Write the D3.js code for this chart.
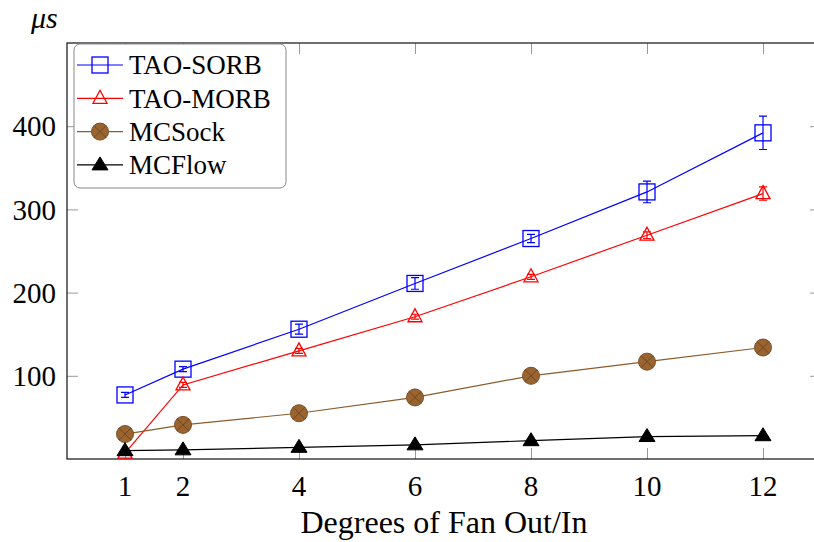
<!DOCTYPE html>
<html lang="en">
<head>
<meta charset="UTF-8">
<title>Fan Out/In latency</title>
<style>
    body { margin: 0; background: #fff; }
    svg { display: block; }
    text { font-family: "Liberation Serif", "Times New Roman", "DejaVu Serif", serif; }
    .tick line { stroke: #999; }
</style>
</head>
<body>
<svg width="814" height="542"></svg>
<script src="https://d3js.org/d3.v7.min.js"></script>
<script>
    // values (microseconds)
    const fanDegrees = [1, 2, 4, 6, 8, 10, 12];
    const taoSorb    = [77, 108, 156, 211, 265, 321, 392];
    const taoSorbErr = [3, 3, 6, 7, 5, 13, 20];
    const taoMorb    = [7, 89, 130, 171, 219, 269, 319];
    const taoMorbErr = [2, 3, 3, 3, 3, 4, 8];
    const mcSock     = [30, 41, 55, 74, 100, 117, 134];
    const mcFlow     = [10, 11, 14, 17, 22, 27, 28];
    const xTicks = [1, 2, 4, 6, 8, 10, 12];
    const yTicks = [100, 200, 300, 400];

    const series = [
        {name: "TAO-SORB", values: taoSorb, err: taoSorbErr, color: "#0000ff", mark: "square"},
        {name: "TAO-MORB", values: taoMorb, err: taoMorbErr, color: "#ff0000", mark: "triangle"},
        {name: "MCSock", values: mcSock, err: null, color: "#8c5b2c", mark: "otimes"},
        {name: "MCFlow", values: mcFlow, err: null, color: "#000000", mark: "filltri"}
    ];

    const mLeft = 67, mRight = 821, mTop = 43, mBottom = 459;
    const serif = "'Liberation Serif', 'Times New Roman', 'DejaVu Serif', serif";
    const svg = d3.select("svg").attr("font-family", serif);
    const x = d3.scaleLinear().domain([0, 13]).range([mLeft, mRight]);
    const y = d3.scaleLinear().domain([0, 500]).range([mBottom, mTop]);

    // ticks, both sides, pointing inward
    svg.append("g").attr("transform", `translate(0,${mBottom})`)
        .call(d3.axisBottom(x).tickValues(xTicks).tickSize(-11).tickFormat(""))
        .call(g => g.select(".domain").remove());
    svg.append("g").attr("transform", `translate(0,${mTop})`)
        .call(d3.axisTop(x).tickValues(xTicks).tickSize(-11).tickFormat(""))
        .call(g => g.select(".domain").remove());
    svg.append("g").attr("transform", `translate(${mLeft},0)`)
        .call(d3.axisLeft(y).tickValues(yTicks).tickSize(-11).tickFormat(""))
        .call(g => g.select(".domain").remove());
    svg.append("g").attr("transform", `translate(${mRight},0)`)
        .call(d3.axisRight(y).tickValues(yTicks).tickSize(-11).tickFormat(""))
        .call(g => g.select(".domain").remove());

    svg.append("rect")
        .attr("x", mLeft).attr("y", mTop)
        .attr("width", mRight - mLeft).attr("height", mBottom - mTop)
        .attr("fill", "none").attr("stroke", "#222").attr("stroke-width", 1.3);

    svg.selectAll(".xlab").data(xTicks).enter().append("text")
        .attr("x", d => x(d)).attr("y", 496)
        .attr("text-anchor", "middle").attr("font-size", 29)
        .attr("font-family", serif)
        .text(d => d);
    svg.selectAll(".ylab").data(yTicks).enter().append("text")
        .attr("x", 56).attr("y", d => y(d)).attr("dy", "0.35em")
        .attr("text-anchor", "end").attr("font-size", 29)
        .attr("font-family", serif)
        .text(d => d);

    svg.append("text").attr("x", 444).attr("y", 533)
        .attr("text-anchor", "middle").attr("font-size", 32)
        .attr("font-family", serif)
        .text("Degrees of Fan Out/In");
    svg.append("text").attr("x", 31).attr("y", 28)
        .attr("font-size", 30).attr("font-style", "italic")
        .attr("font-family", serif)
        .text("μs");

    function drawMark(g, s, cx, cy) {
        if (s.mark === "square") {
            g.append("rect").attr("x", cx - 8).attr("y", cy - 8).attr("width", 16).attr("height", 16)
                .attr("fill", "none").attr("stroke", s.color).attr("stroke-width", 1.3);
        } else if (s.mark === "triangle") {
            g.append("path").attr("d", `M${cx},${cy - 8}L${cx + 7},${cy + 5}L${cx - 7},${cy + 5}Z`)
                .attr("fill", "none").attr("stroke", s.color).attr("stroke-width", 1.3);
        } else if (s.mark === "otimes") {
            const r = 8.5, k = r * Math.SQRT1_2;
            g.append("circle").attr("cx", cx).attr("cy", cy).attr("r", r)
                .attr("fill", "#9a6430").attr("stroke", "#7a4f26").attr("stroke-width", 1);
            g.append("path").attr("d", `M${cx - k},${cy - k}L${cx + k},${cy + k}M${cx - k},${cy + k}L${cx + k},${cy - k}`)
                .attr("stroke", "#6b4420").attr("stroke-width", 0.9);
        } else {
            g.append("path").attr("d", `M${cx},${cy - 8}L${cx + 8},${cy + 5}L${cx - 8},${cy + 5}Z`)
                .attr("fill", "#000").attr("stroke", "#000").attr("stroke-width", 1);
        }
    }

    const line = d3.line().x(d => x(d[0])).y(d => y(d[1]));

    series.forEach(s => {
        const pts = fanDegrees.map((f, i) => [f, s.values[i]]);
        svg.append("path").datum(pts).attr("d", line)
            .attr("fill", "none").attr("stroke", s.color).attr("stroke-width", 1.2);
        const g = svg.append("g");
        pts.forEach((p, i) => {
            drawMark(g, s, x(p[0]), y(p[1]));
            if (s.err) {
                const cx = x(p[0]), y0 = y(p[1] - s.err[i]), y1 = y(p[1] + s.err[i]);
                g.append("path")
                    .attr("d", `M${cx},${y0}L${cx},${y1}M${cx - 4},${y0}L${cx + 4},${y0}M${cx - 4},${y1}L${cx + 4},${y1}`)
                    .attr("stroke", s.color).attr("stroke-width", 1.2).attr("fill", "none");
            }
        });
    });

    // legend
    const legend = svg.append("g");
    legend.append("rect").attr("x", 74).attr("y", 44).attr("width", 212).attr("height", 144)
        .attr("rx", 6).attr("fill", "#fff").attr("stroke", "#888").attr("stroke-width", 1);
    series.forEach((s, i) => {
        const cy = 65 + i * 33.3;
        legend.append("line").attr("x1", 77).attr("x2", 123).attr("y1", cy).attr("y2", cy)
            .attr("stroke", s.color).attr("stroke-width", 1.2);
        drawMark(legend, s, 100, cy);
        legend.append("text").attr("x", 129).attr("y", cy).attr("dy", "0.35em")
            .attr("font-size", 27).attr("font-family", serif).text(s.name);
    });
</script>
</body>
</html>
